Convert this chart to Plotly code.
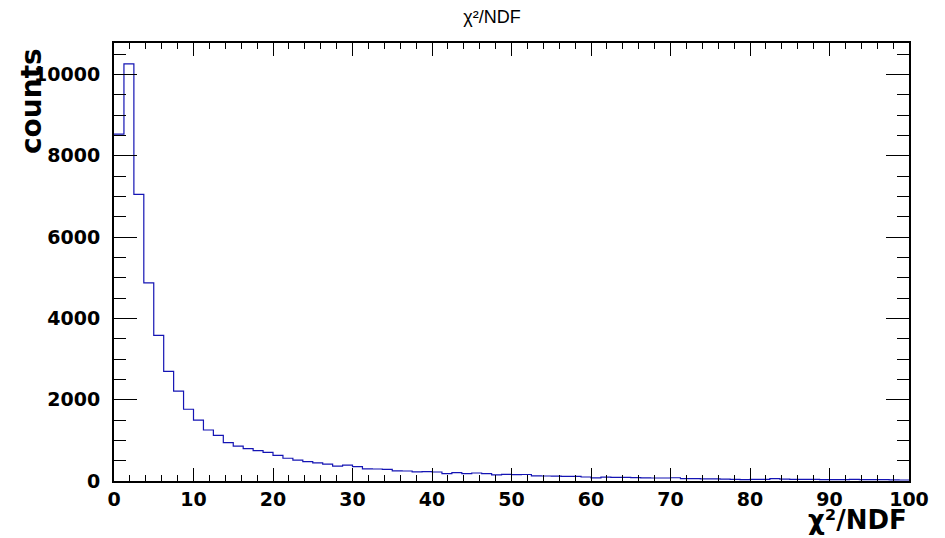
import numpy as np
import plotly.graph_objects as go

# Histogram: 80 bins over [0, 100]
x_min = 0.0
x_max = 100.0
n_bins = 80
counts = [
    8530, 10260, 7050, 4875, 3580, 2695, 2210, 1765, 1495, 1255,
    1120, 945, 860, 795, 745, 705, 630, 560, 515, 478,
    445, 415, 365, 390, 353, 298, 295, 287, 248, 246,
    222, 230, 221, 182, 205, 182, 197, 180, 150, 164,
    156, 160, 125, 123, 122, 115, 113, 98, 76, 96,
    90, 88, 82, 76, 74, 74, 80, 58, 58, 50,
    50, 48, 42, 34, 40, 42, 56, 48, 42, 42,
    40, 34, 34, 34, 40, 34, 33, 32, 26, 25,
]
x_ticks = [0, 10, 20, 30, 40, 50, 60, 70, 80, 90, 100]
y_ticks = [0, 2000, 4000, 6000, 8000, 10000]
title_text = "χ²/NDF"
x_title = "χ²/NDF"
y_title = "counts"

edges = np.linspace(x_min, x_max, n_bins + 1)
xs = list(edges)
ys = list(counts) + [counts[-1]]
y_top = max(counts) * 1.05

fig = go.Figure()
fig.add_trace(go.Scatter(
    x=xs, y=ys, mode="lines", line=dict(shape="hv", color="#1414b4", width=1.2),
    hoverinfo="skip", showlegend=False,
))

tick_font = dict(family="DejaVu Sans", size=19, color="black", weight="bold")

fig.update_layout(
    width=945, height=538,
    margin=dict(l=114, r=36, t=43, b=57, autoexpand=False),
    paper_bgcolor="white", plot_bgcolor="white",
    title=dict(text=title_text, x=492 / 945, xanchor="center", xref="container",
               y=1 - 17 / 538, yref="container", yanchor="middle",
               font=dict(family="Liberation Sans", size=18, color="black")),
    xaxis=dict(
        range=[x_min, x_max], tickvals=x_ticks, ticktext=[str(v) for v in x_ticks],
        ticks="inside", ticklen=13, tickwidth=1, tickcolor="black",
        showline=True, linecolor="black", linewidth=2, mirror="ticks",
        showgrid=False, zeroline=False, tickfont=tick_font, ticklabelstandoff=0,
        automargin=False,
        minor=dict(dtick=2, ticks="inside", ticklen=6, tickwidth=1, tickcolor="black", showgrid=False),
    ),
    yaxis=dict(
        range=[0, y_top], tickvals=y_ticks, ticktext=[str(v) for v in y_ticks],
        ticks="inside", ticklen=23, tickwidth=1, tickcolor="black",
        showline=True, linecolor="black", linewidth=2, mirror="ticks",
        showgrid=False, zeroline=False, tickfont=tick_font, ticklabelstandoff=8,
        automargin=False,
        minor=dict(dtick=500, ticks="inside", ticklen=12, tickwidth=1, tickcolor="black", showgrid=False),
    ),
    annotations=[
        dict(text=x_title, xref="paper", yref="paper", x=1.0, y=(481 - 520) / 438,
             xanchor="right", yanchor="middle", showarrow=False,
             font=dict(family="DejaVu Sans", size=26, color="black", weight="bold")),
        dict(text=y_title, xref="paper", yref="paper", x=(31 - 114) / 795, y=(481 - 46) / 438,
             xanchor="center", yanchor="top", showarrow=False, textangle=-90,
             font=dict(family="DejaVu Sans", size=28, color="black", weight="bold")),
    ],
)

fig.write_html(
    "out.html",
    config={"displayModeBar": False},
    post_script="document.body.style.margin='0';document.body.style.overflow='hidden';",
)
